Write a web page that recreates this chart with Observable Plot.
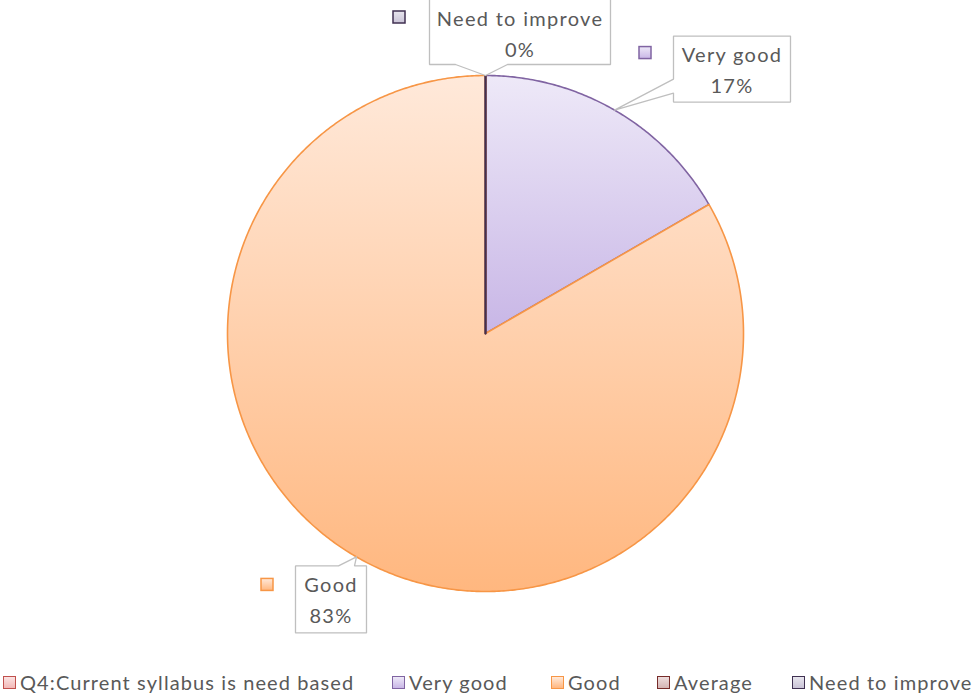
<!DOCTYPE html>
<html><head><meta charset="utf-8">
<script src="https://cdn.jsdelivr.net/npm/d3@7"></script>
<script src="https://cdn.jsdelivr.net/npm/@observablehq/plot@0.6"></script>
<style>
html,body{margin:0;padding:0;background:#fff;}
body{width:972px;height:698px;position:relative;overflow:hidden;font-family:Lato,"Open Sans",sans-serif;}
#chart{position:absolute;left:0;top:0;}
#legend{position:absolute;left:0;top:668px;width:972px;height:28px;}
.li{position:absolute;top:0;display:flex;align-items:center;height:28px;font-size:20px;letter-spacing:1.1px;color:#595959;white-space:nowrap;}
.key{width:11px;height:11px;border:1.5px solid;margin-right:4px;box-sizing:content-box;}
</style></head><body>
<div id="chart"></div>
<div id="legend"></div>
<script>
// ---- data ----
const categories = ["Q4:Current syllabus is need based", "Very good", "Good", "Average", "Need to improve"];
const values = [0, 1, 5, 0, 0];
const percentLabels = ["", "17%", "83%", "", "0%"];
const labeledCategories = ["Need to improve", "Very good", "Good"];
const strokeColors = ["#C0504D", "#8064A2", "#F79646", "#772C2A", "#403152"];
const gradientTop = ["#FBE3E3", "#EEE9F8", "#FFE9DA", "#EEDDDD", "#E8E6EE"];
const gradientBottom = ["#F2B8B7", "#C8B6E6", "#FFB77F", "#D4B5B4", "#C9C3D6"];
const legendLefts = [3, 392, 551, 657, 792];

// ---- layout ----
const W = 972, H = 660, cx = 485, cy = 333, R = 258;
// label callout layouts in px offsets from the anchor point on the arc (y down)
const labelLayout = {
  "Need to improve": {box: [-56, 125, -77, -11], wedge: ["bottom", -30, 22], text: [34.5, -44], key: [-86, -58]},
  "Very good": {box: [59, 176, -74, -8], wedge: ["left", -31, -17], text: [117.5, -42], key: [31, -57]},
  "Good": {box: [-61, 10, 9, 76], wedge: ["top", -18, -2], text: [-25.5, 41], key: [-89, 28]}
};

const data = categories.map((c, i) => ({category: c, value: values[i], i}));
const arcs = d3.pie().sort(null).value(d => d.value).startAngle(0).endAngle(2 * Math.PI)(data);

const sliceMarks = [];
arcs.forEach(a => {
  const pts = [{x: 0, y: 0}];
  const n = Math.max(1, Math.ceil((a.endAngle - a.startAngle) / (Math.PI / 360)));
  for (let k = 0; k <= n; k++) {
    const t = a.startAngle + (a.endAngle - a.startAngle) * k / n;
    pts.push({x: Math.sin(t), y: Math.cos(t)});
  }
  pts.push({x: 0, y: 0});
  const zero = a.endAngle === a.startAngle;
  sliceMarks.push(Plot.line(pts, {x: "x", y: "y", curve: "linear",
    fill: `url(#g${a.data.i})`, stroke: strokeColors[a.data.i], strokeWidth: zero ? 2 : 1.6, strokeLinejoin: "round"}));
});

const labelMarks = [];
labeledCategories.forEach(cat => {
  const a = arcs.find(d => d.data.category === cat);
  const mid = (a.startAngle + a.endAngle) / 2;
  const ax = Math.sin(mid), ay = Math.cos(mid);
  const L = labelLayout[cat];
  const P = (dx, dy) => ({x: ax + dx / R, y: ay - dy / R});
  const [l, r, t, b] = L.box;
  const [side, w1, w2] = L.wedge;
  let pts;
  if (side === "bottom") pts = [P(0, 0), P(w1, b), P(l, b), P(l, t), P(r, t), P(r, b), P(w2, b), P(0, 0)];
  else if (side === "left") pts = [P(0, 0), P(l, w2), P(l, b), P(r, b), P(r, t), P(l, t), P(l, w1), P(0, 0)];
  else pts = [P(0, 0), P(w2, t), P(r, t), P(r, b), P(l, b), P(l, t), P(w1, t), P(0, 0)];
  labelMarks.push(Plot.line(pts, {x: "x", y: "y", fill: "white", stroke: "#BFBFBF", strokeWidth: 1.3, strokeLinejoin: "miter"}));
  const tp = P(L.text[0], L.text[1]);
  labelMarks.push(Plot.text([tp], {x: "x", y: "y", text: () => `${cat}\n${percentLabels[a.data.i]}`,
    fill: "#595959", fontSize: 20, lineHeight: 1.55, fontFamily: "Lato", textAnchor: "middle"}));
  const k1 = P(L.key[0] - 6, L.key[1] - 6), k2 = P(L.key[0] + 6, L.key[1] + 6);
  labelMarks.push(Plot.rect([{x1: k1.x, x2: k2.x, y1: k1.y, y2: k2.y}], {x1: "x1", x2: "x2", y1: "y1", y2: "y2",
    fill: `url(#g${a.data.i})`, stroke: strokeColors[a.data.i], strokeWidth: 1.5}));
});

const svg = Plot.plot({
  width: W, height: H,
  x: {domain: [-1, 1], range: [cx - R, cx + R], axis: null},
  y: {domain: [-1, 1], range: [cy + R, cy - R], axis: null},
  style: {background: "white", overflow: "visible"},
  marks: [...sliceMarks, ...labelMarks]
});

d3.select(svg).selectAll("text").style("letter-spacing", "1.3px");
const defs = d3.select(svg).insert("defs", ":first-child");
categories.forEach((c, i) => {
  const g = defs.append("linearGradient").attr("id", `g${i}`).attr("x1", 0).attr("y1", 0).attr("x2", 0).attr("y2", 1);
  g.append("stop").attr("offset", "0%").attr("stop-color", gradientTop[i]);
  g.append("stop").attr("offset", "100%").attr("stop-color", gradientBottom[i]);
});
document.getElementById("chart").appendChild(svg);

// legend
const legend = d3.select("#legend");
categories.forEach((c, i) => {
  const item = legend.append("div").attr("class", "li").style("left", legendLefts[i] + "px");
  item.append("div").attr("class", "key").style("border-color", strokeColors[i])
    .style("background", `linear-gradient(${gradientTop[i]}, ${gradientBottom[i]})`);
  item.append("span").text(c);
});
</script>
</body></html>
